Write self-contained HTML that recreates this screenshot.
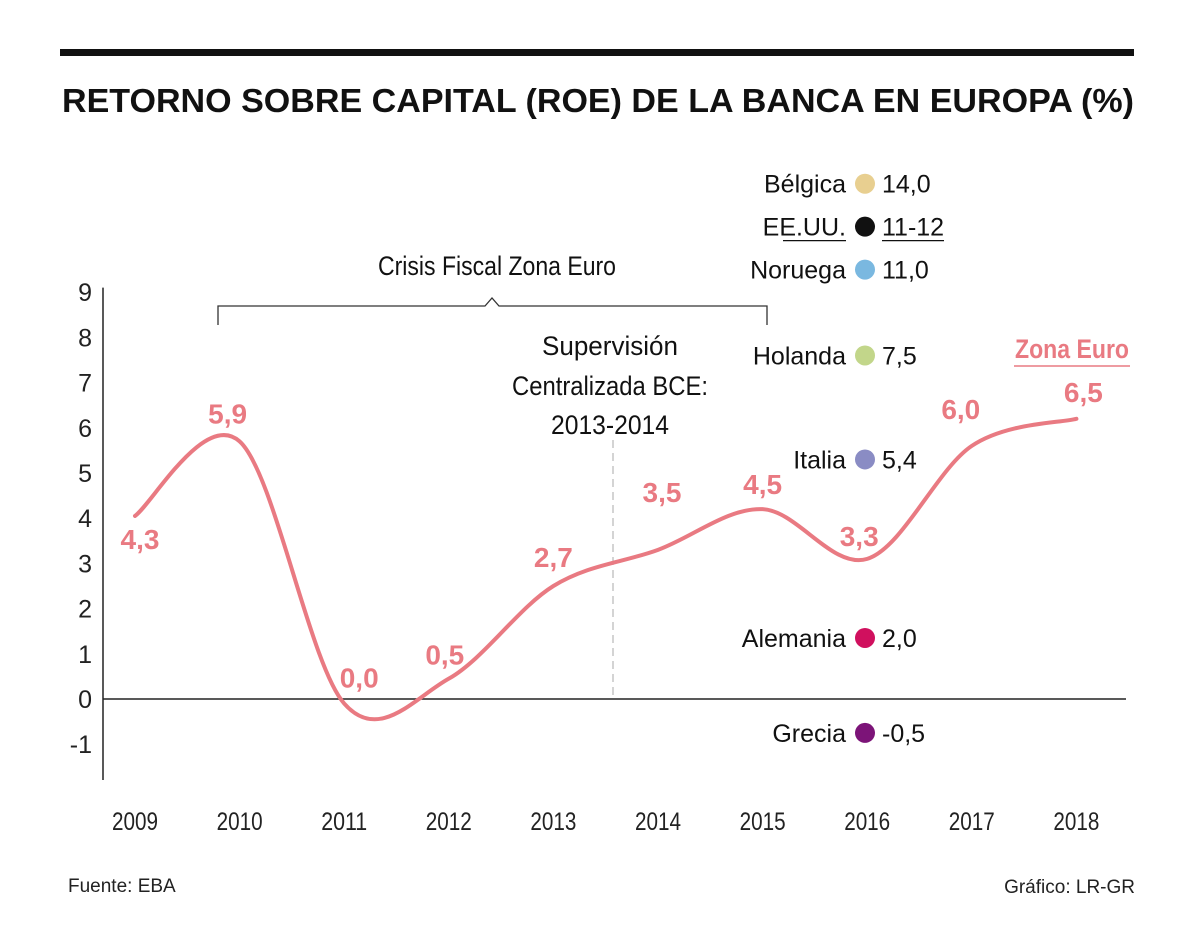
<!DOCTYPE html>
<html><head><meta charset="utf-8"><style>
body{margin:0;background:#fff;}
svg text{font-family:"Liberation Sans",sans-serif;}
</style></head><body>
<svg width="1200" height="945" viewBox="0 0 1200 945">
<rect x="60" y="49" width="1074" height="7" fill="#111"/>
<text x="598" y="112" text-anchor="middle" font-size="33" font-weight="bold" fill="#111" textLength="1072" lengthAdjust="spacingAndGlyphs">RETORNO SOBRE CAPITAL (ROE) DE LA BANCA EN EUROPA (%)</text>
<g id="axes"></g>
<g id="marks"></g>
<text x="68" y="892" font-size="19" fill="#222">Fuente: EBA</text>
<text x="1135" y="893" text-anchor="end" font-size="19" fill="#222">Gráfico: LR-GR</text>
</svg>
<script>
const years=[2009,2010,2011,2012,2013,2014,2015,2016,2017,2018];
const values=[4.3,5.9,0.0,0.5,2.7,3.5,4.5,3.3,6.0,6.5];
const curveValues=[4.05,5.7,-0.1,0.45,2.5,3.3,4.2,3.1,5.6,6.2];
const yTicks=[-1,0,1,2,3,4,5,6,7,8,9];
const legendNames=["Bélgica","EE.UU.","Noruega","Holanda","Italia","Alemania","Grecia"];
const legendValues=["14,0","11-12","11,0","7,5","5,4","2,0","-0,5"];
const legendLevels=[11.4,10.45,9.5,7.6,5.3,1.35,-0.75];
const legendColors=["#e8cf90","#111","#7ab8e0","#c2d68a","#8a8cc4","#d0105e","#7c1478"];
const NS="http://www.w3.org/2000/svg";
const X=y=>135+(y-2009)*104.6;
const Y=v=>699-v*45.2;
function mk(tag,attrs,parent,txt){const e=document.createElementNS(NS,tag);for(const k in attrs)e.setAttribute(k,attrs[k]);if(txt!==undefined)e.textContent=txt;parent.appendChild(e);return e;}
const ax=document.getElementById('axes'),mg=document.getElementById('marks');
let e=mk('line',{x1:103,y1:Y(9.1),x2:103,y2:780,stroke:'#222','stroke-width':1.5},ax);


e=mk('line',{x1:103,y1:Y(0),x2:1126,y2:Y(0),stroke:'#222','stroke-width':1.5},ax);


yTicks.forEach(t=>{const el=mk('text',{x:92,y:Y(t)+9,'text-anchor':'end','font-size':25,fill:'#222'},ax,String(t));

});
years.forEach(yr=>{const el=mk('text',{x:X(yr),y:830,'text-anchor':'middle','font-size':25,fill:'#222',textLength:46,lengthAdjust:'spacingAndGlyphs'},ax,String(yr));

});
e=mk('path',{d:'M218,325 V306 H485 L492,298 L499,306 H767 V325',fill:'none',stroke:'#333','stroke-width':1.3},ax);


e=mk('text',{x:497,y:275,'text-anchor':'middle','font-size':27,fill:'#111',textLength:238,lengthAdjust:'spacingAndGlyphs'},ax,'Crisis Fiscal Zona Euro');


e=mk('line',{x1:613,y1:440,x2:613,y2:697,stroke:'#aaa','stroke-width':1,'stroke-dasharray':'8,5'},ax);


[['Supervisión',355,136],['Centralizada BCE:',395,196],['2013-2014',434,118]].forEach(([s,y,w])=>{const el=mk('text',{x:610,y:y,'text-anchor':'middle','font-size':27,fill:'#111',textLength:w,lengthAdjust:'spacingAndGlyphs'},ax,s);

});
const pts=years.map((y,i)=>[X(y),Y(curveValues[i])]);
let d=`M${pts[0][0]},${pts[0][1]}`;
for(let i=0;i<pts.length-1;i++){const p0=pts[Math.max(0,i-1)],p1=pts[i],p2=pts[i+1],p3=pts[Math.min(pts.length-1,i+2)];
d+=` C${p1[0]+(p2[0]-p0[0])/6},${p1[1]+(p2[1]-p0[1])/6} ${p2[0]-(p3[0]-p1[0])/6},${p2[1]-(p3[1]-p1[1])/6} ${p2[0]},${p2[1]}`;}
e=mk('path',{d:d,fill:'none',stroke:'#e97a82','stroke-width':4,'stroke-linecap':'round'},mg);


const off=[[5,33],[-12,-18],[15,-16],[-4,-14],[0,-19],[4,-48],[0,-15],[-8,-13],[-11,-27],[7,-17]];
values.forEach((v,i)=>{const el=mk('text',{x:X(years[i])+off[i][0],y:Y(curveValues[i])+off[i][1],'text-anchor':'middle','font-size':28,'font-weight':'bold',fill:'#e97a82'},mg,v.toFixed(1).replace('.',','));

});
e=mk('text',{x:1072,y:358,'text-anchor':'middle','font-size':27,'font-weight':'bold',fill:'#e97a82',textLength:114,lengthAdjust:'spacingAndGlyphs'},mg,'Zona Euro');


mk('line',{x1:1014,y1:366,x2:1130,y2:366,stroke:'#e97a82','stroke-width':1.5},mg);
legendNames.forEach((n,i)=>{const cy=Y(legendLevels[i]);
const c=mk('circle',{cx:865,cy:cy,r:10,fill:legendColors[i]},mg);


const t=mk('text',{x:846,y:cy+9,'text-anchor':'end','font-size':25,fill:'#111'},mg,n);


const v=mk('text',{x:882,y:cy+9,'font-size':25,fill:'#111'},mg,legendValues[i]);


if(i===1){mk('line',{x1:783,y1:cy+14,x2:846,y2:cy+14,stroke:'#111','stroke-width':1.3},mg);mk('line',{x1:882,y1:cy+14,x2:944,y2:cy+14,stroke:'#111','stroke-width':1.3},mg);}
});
</script>
</body></html>
